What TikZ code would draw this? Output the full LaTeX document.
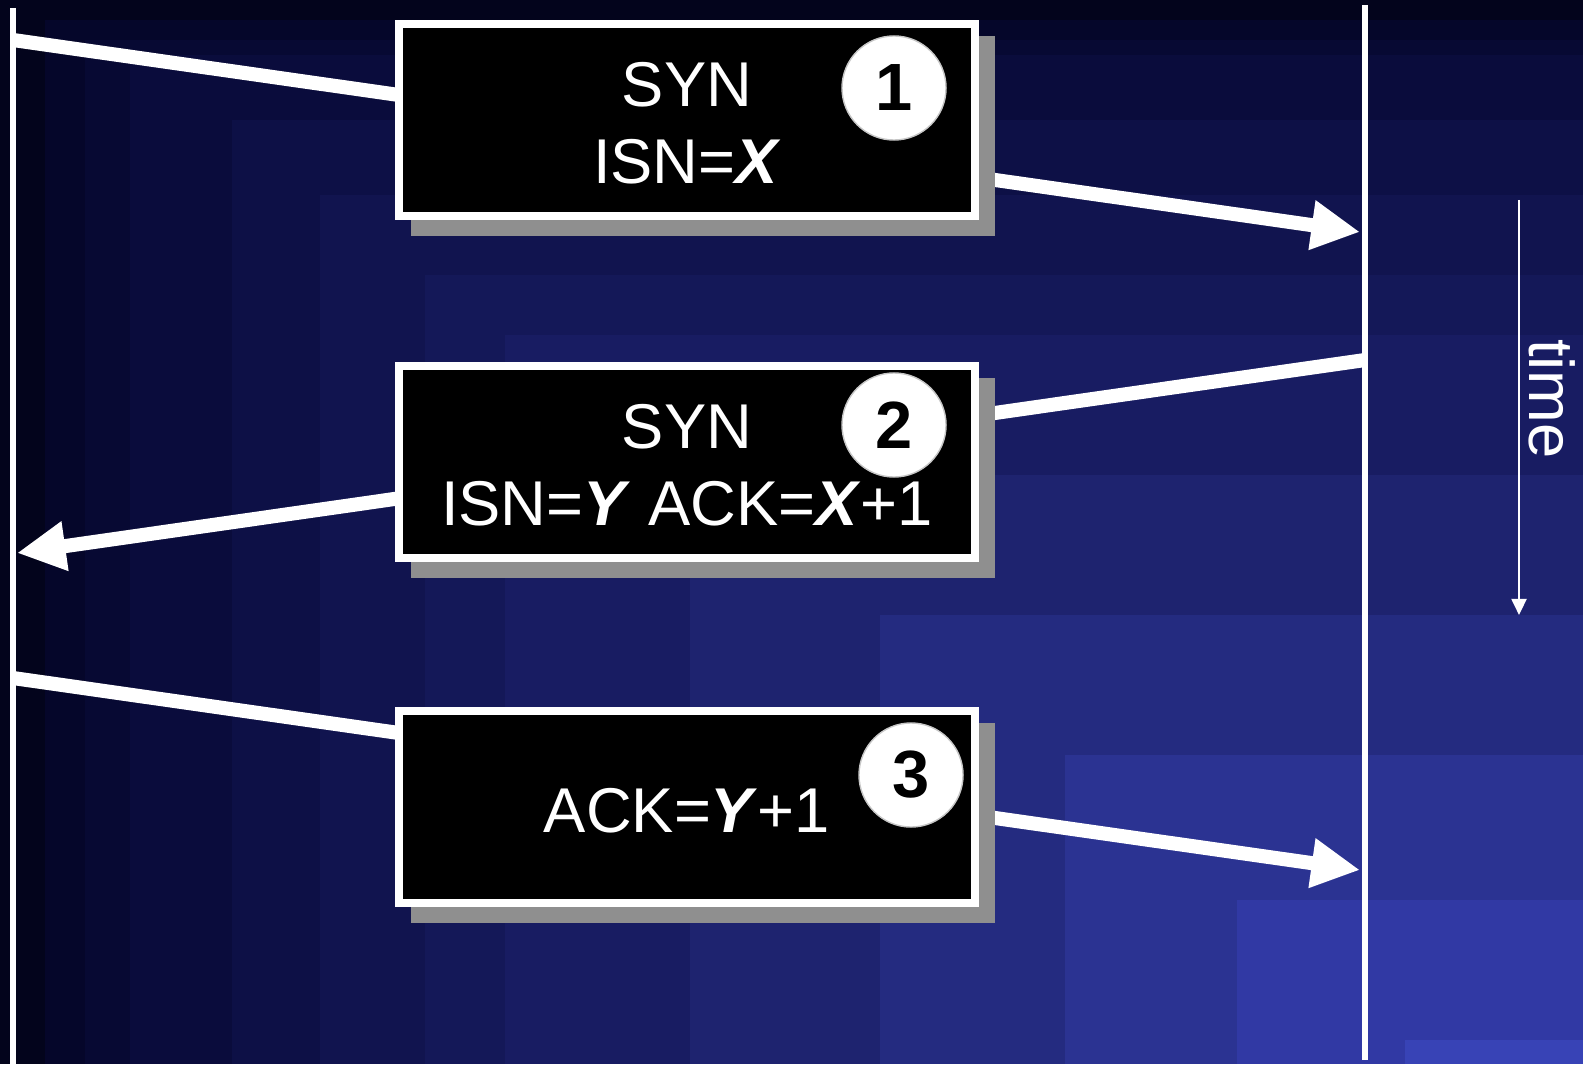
\documentclass[tikz,border=0pt]{standalone}
\usepackage{fontspec}
\setmainfont{Liberation Sans}
\usetikzlibrary{arrows.meta}

% stepped background, darkest in the top-left corner
\definecolor{bgA}{HTML}{03041C}
\definecolor{bgB}{HTML}{05062A}
\definecolor{bgC}{HTML}{070933}
\definecolor{bgD}{HTML}{0A0C3C}
\definecolor{bgE}{HTML}{0D1046}
\definecolor{bgF}{HTML}{11144F}
\definecolor{bgG}{HTML}{141858}
\definecolor{bgH}{HTML}{181C62}
\definecolor{bgI}{HTML}{1E236F}
\definecolor{bgJ}{HTML}{242B80}
\definecolor{bgK}{HTML}{2B3392}
\definecolor{bgL}{HTML}{3139A4}
\definecolor{bgM}{HTML}{3843B6}
\definecolor{shadowgray}{HTML}{8F8F8F}

\newcommand{\bivar}[1]{\textbf{\textit{#1}}}

\begin{document}
\begin{tikzpicture}[x=0.01cm,y=-0.01cm,
  msg/.style={draw=white, line width=4pt, -{Triangle[length=13.8pt,width=13.3pt]}},
  life/.style={draw=white, line width=1.8pt},
  msgbox/.style={fill=black, draw=white, line width=2.28pt,
    minimum width=5.76cm, minimum height=1.92cm, inner sep=0pt,
    preaction={fill=shadowgray, draw=shadowgray,
      transform canvas={xshift=0.16cm,yshift=-0.16cm}}},
  msgtext/.style={text=white, inner sep=0pt, align=center,
    font=\fontsize{18}{22}\selectfont},
  stepnum/.style={circle, fill=white, draw=gray!45, line width=0.4pt,
    minimum size=1.04cm, inner sep=0pt, text=black,
    font=\bfseries\fontsize{19}{19}\selectfont},
  timeaxis/.style={draw=white, line width=0.6pt, -{Triangle[length=4.6pt,width=4.3pt]}},
  timelabel/.style={text=white, rotate=-90, inner sep=0pt, font=\fontsize{18}{18}\selectfont}
]
\useasboundingbox (0,0) rectangle (1583,1064);

% background
\foreach \bx/\by/\bc in {0/0/bgA, 45/20/bgB, 85/40/bgC, 130/55/bgD, 232/120/bgE,
    320/195/bgF, 425/275/bgG, 505/335/bgH, 690/475/bgI, 880/615/bgJ,
    1065/755/bgK, 1237/900/bgL, 1405/1040/bgM}
  \fill[\bc] (\bx,\by) rectangle (1583,1064);

% lifelines
\coordinate (Ltop) at (13,8);
\coordinate (Lbot) at (13,1064);
\coordinate (Rtop) at (1365,5);
\coordinate (Rbot) at (1365,1060);

% message end points
\coordinate (m1s) at (13,40);
\coordinate (m1e) at (1360,232);
\coordinate (m2s) at (1365,360);
\coordinate (m2e) at (17,553);
\coordinate (m3s) at (13,678);
\coordinate (m3e) at (1360,870);

\draw[msg] (m1s) -- (m1e);
\draw[msg] (m2s) -- (m2e);
\draw[msg] (m3s) -- (m3e);

\draw[life] (Ltop) -- (Lbot);
\draw[life] (Rtop) -- (Rbot);

% segments
\node[msgbox] (b1) at (687,120) {};
\node[msgbox] (b2) at (687,462) {};
\node[msgbox] (b3) at (687,807) {};

\node[msgtext] (t1) at ([yshift=-0.9pt]b1.center) {SYN\\ISN=\bivar{X}};
\node[msgtext] (t2) at ([yshift=-0.9pt]b2.center) {SYN\\ISN=\bivar{Y} ACK=\bivar{X}+1};
\node[msgtext] (t3) at ([yshift=-1.1pt]b3.center) {ACK=\bivar{Y}+1};

\node[stepnum] (c1) at (894,88) {1};
\node[stepnum] (c2) at (894,425) {2};
\node[stepnum] (c3) at (911,775) {3};

% time axis
\coordinate (t0) at (1519,200);
\coordinate (t1) at (1519,615);
\draw[timeaxis] (t0) -- (t1);
\node[timelabel] (tl) at (1552,399) {time};
\end{tikzpicture}
\end{document}
